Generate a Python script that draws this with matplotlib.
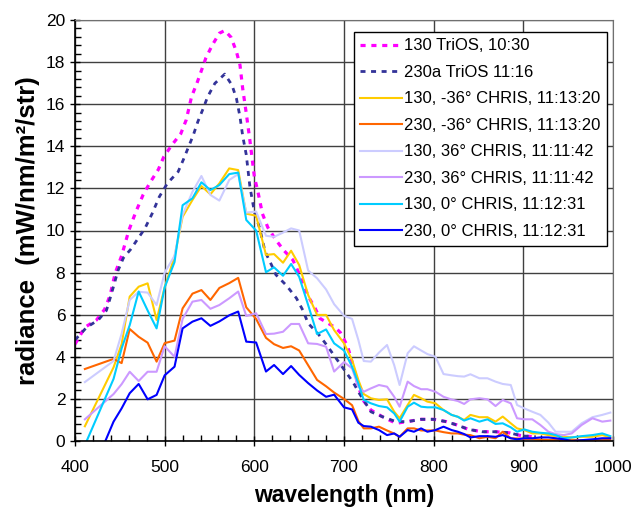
import matplotlib
matplotlib.use("Agg")
import matplotlib.pyplot as plt
from matplotlib.ticker import MultipleLocator

plt.rcParams['font.family'] = ['Liberation Sans', 'DejaVu Sans']

# ---------------- data ----------------
trios_130_wl = [400, 411, 424, 433, 439, 445, 452, 460, 468, 476, 484, 493, 499, 508, 518, 524,
                530, 536, 546, 553, 561, 567, 574, 580, 584, 587, 591, 595, 600, 604, 609, 615,
                624, 633, 643, 649, 655, 661, 667, 673, 682, 690, 696, 704, 710, 716, 721, 730,
                743, 758, 770, 786, 800, 814, 826, 839, 854, 869, 884, 899, 914]
trios_130 = [4.6, 5.4, 5.75, 6.25, 6.9, 8.0, 8.8, 10.0, 10.9, 11.7, 12.3, 12.9, 13.5, 14.06, 14.6, 15.25,
             16.36, 17.0, 18.2, 18.8, 19.37, 19.5, 19.18, 18.5, 17.86, 16.75, 15.57, 14.3, 12.56, 11.84, 10.8, 10.15,
             9.55, 9.05, 8.6, 8.04, 7.4, 6.8, 6.38, 5.83, 5.6, 5.4, 5.15, 4.5, 3.6, 2.6, 1.95, 1.47,
             1.15, 0.84, 0.92, 1.03, 1.03, 0.92, 0.76, 0.55, 0.44, 0.44, 0.39, 0.24, 0.2]

trios_230_wl = [400, 413, 426, 435, 440, 448, 454, 462, 470, 478, 486, 494, 503, 515, 521, 532,
                537, 543, 548, 556, 567, 575, 580, 584, 587, 591, 595, 600, 606, 612, 621, 624,
                636, 647, 654, 660, 671, 680, 690, 700, 710, 717, 730, 743, 758, 771, 786, 800,
                814, 826, 839, 854, 869, 884, 899, 914]
trios_230 = [4.8, 5.4, 5.75, 6.2, 6.9, 8.1, 8.7, 9.1, 9.6, 10.1, 10.8, 11.6, 12.24, 12.79, 13.38, 14.54,
             15.17, 15.8, 16.36, 16.99, 17.43, 16.91, 16.28, 15.4, 14.5, 13.6, 12.1, 10.9, 10.1, 9.0, 8.2, 7.9,
             7.38, 6.78, 6.22, 5.59, 5.1, 4.6, 4.0, 3.4, 2.8, 2.27, 1.39, 1.15, 0.92, 0.92, 1.03, 1.03,
             0.92, 0.76, 0.55, 0.44, 0.44, 0.39, 0.24, 0.2]

chris_wl = [411, 443, 452, 461, 471, 481, 491, 500, 511, 520, 531, 541, 551, 561, 572, 582,
            591, 602, 613, 622, 632, 641, 650, 660, 670, 680, 689, 700, 709, 716, 722, 730,
            739, 748, 756, 762, 771, 778, 786, 793, 802, 811, 820, 827, 834, 841, 851, 860,
            869, 877, 886, 893, 901, 910, 919, 928, 936, 945, 954, 965, 977, 988, 997]

c130_m36 = [0.7, 3.5, 4.6, 6.86, 7.33, 7.49, 5.75, 7.3, 8.76, 10.65, 11.45, 12.11, 11.72, 12.24, 12.95, 12.87,
            10.8, 10.7, 8.84, 8.88, 8.47, 9.04, 8.36, 6.94, 5.99, 5.99, 5.27, 4.64, 3.85, 2.9, 2.23, 2.03,
            1.95, 1.98, 1.39, 1.08, 1.71, 2.19, 2.03, 1.87, 1.79, 1.47, 1.24, 1.15, 1.0, 1.24, 1.13, 1.13,
            0.92, 1.16, 0.84, 0.6, 0.52, 0.36, 0.36, 0.28, 0.23, 0.2, 0.17, 0.2, 0.2, 0.28, 0.17]
c230_m36 = [3.42, 3.9, 3.7, 5.32, 4.95, 4.67, 3.77, 4.65, 4.77, 6.3, 7.0, 7.17, 6.7, 7.27, 7.5, 7.75,
            6.35, 5.8, 4.9, 4.6, 4.42, 4.5, 4.3, 3.6, 2.9, 2.6, 2.3, 2.0, 1.7, 0.95, 0.6, 0.6,
            0.68, 0.5, 0.35, 0.2, 0.6, 0.6, 0.5, 0.5, 0.5, 0.42, 0.36, 0.36, 0.3, 0.28, 0.13, 0.2,
            0.13, 0.44, 0.13, 0.12, 0.1, 0.1, 0.06, 0.05, 0.05, 0.05, 0.05, 0.04, 0.04, 0.05, 0.05]
c130_p36 = [2.8, 3.8, 5.1, 6.7, 7.09, 7.05, 6.46, 8.0, 8.8, 10.74, 11.84, 12.59, 11.69, 11.42, 12.4, 12.68,
            10.85, 10.9, 9.75, 9.7, 9.9, 10.1, 10.0, 8.1, 7.73, 7.2, 6.5, 5.95, 5.8, 4.8, 3.8, 3.77,
            4.2, 4.56, 3.6, 2.66, 4.17, 4.5, 4.3, 4.13, 4.0, 3.18, 3.12, 3.08, 3.06, 3.17, 2.98, 2.98,
            2.82, 2.71, 2.66, 1.71, 1.55, 1.39, 1.24, 0.87, 0.44, 0.44, 0.44, 0.84, 1.13, 1.24, 1.35]
c230_p36 = [1.03, 2.23, 2.7, 3.29, 2.85, 3.29, 3.29, 4.5, 4.0, 5.8, 6.62, 6.7, 6.28, 6.46, 6.78, 7.1,
            5.94, 6.07, 5.08, 5.1, 5.19, 5.56, 5.56, 4.64, 4.61, 4.48, 3.3, 3.75, 3.45, 2.58, 2.34, 2.5,
            2.66, 2.58, 2.1, 1.63, 2.82, 2.61, 2.46, 2.46, 2.34, 2.1, 1.97, 1.9, 1.76, 1.98, 2.03, 1.98,
            1.66, 1.95, 1.79, 1.08, 1.03, 1.03, 0.76, 0.44, 0.33, 0.28, 0.36, 0.76, 1.08, 0.92, 0.97]
c130_0 = [-0.2, 2.95, 4.4, 5.5, 7.1, 6.2, 5.35, 7.3, 8.5, 11.2, 11.53, 12.29, 11.92, 12.16, 12.68, 12.75,
          10.5, 10.0, 8.02, 8.25, 7.85, 8.41, 7.8, 6.46, 5.08, 5.3, 4.64, 4.3, 3.53, 2.74, 1.95, 1.79,
          1.66, 1.6, 1.31, 0.92, 1.63, 1.82, 1.63, 1.6, 1.6, 1.47, 1.24, 1.15, 0.97, 1.08, 0.92, 1.03,
          0.81, 0.84, 0.65, 0.44, 0.55, 0.44, 0.39, 0.36, 0.28, 0.13, 0.17, 0.23, 0.28, 0.36, 0.23]
c230_0 = [-2.3, 0.92, 1.55, 2.27, 2.71, 1.98, 2.19, 3.12, 3.53, 5.35, 5.67, 5.83, 5.47, 5.68, 5.97, 6.15,
          4.72, 4.68, 3.3, 3.61, 3.18, 3.56, 3.14, 2.75, 2.4, 2.1, 2.2, 1.6, 1.5, 0.87, 0.71, 0.68,
          0.52, 0.28, 0.36, 0.2, 0.52, 0.44, 0.6, 0.44, 0.52, 0.68, 0.52, 0.44, 0.33, 0.17, 0.23, 0.23,
          0.2, 0.28, 0.13, 0.08, 0.13, 0.13, 0.17, 0.17, 0.13, 0.08, 0.0, 0.04, 0.08, 0.13, 0.13]

labels = ["130 TriOS, 10:30", "230a TriOS 11:16",
          "130, -36° CHRIS, 11:13:20", "230, -36° CHRIS, 11:13:20",
          "130, 36° CHRIS, 11:11:42", "230, 36° CHRIS, 11:11:42",
          "130, 0° CHRIS, 11:12:31", "230, 0° CHRIS, 11:12:31"]
x_ticks = [400, 500, 600, 700, 800, 900, 1000]
y_ticks = [0, 2, 4, 6, 8, 10, 12, 14, 16, 18, 20]

# ---------------- plot ----------------
fig = plt.figure(figsize=(6.35, 5.08), dpi=100)
ax = fig.add_axes([75/635, 1-441/508, (613-75)/635, (441-20)/508])

ax.plot(trios_130_wl, trios_130, color='#FF00FF', lw=2.3, linestyle=(0, (1.6, 1.8)), label=labels[0])
ax.plot(trios_230_wl, trios_230, color='#333399', lw=2.0, linestyle=(0, (1.8, 2.0)), label=labels[1])
ax.plot(chris_wl, c130_m36, color='#FFCC00', lw=1.5, label=labels[2])
ax.plot(chris_wl, c230_m36, color='#FF6600', lw=1.5, label=labels[3])
ax.plot(chris_wl, c130_p36, color='#CCCCFF', lw=1.5, label=labels[4])
ax.plot(chris_wl, c230_p36, color='#CC99FF', lw=1.5, label=labels[5])
ax.plot(chris_wl, c130_0, color='#00CCFF', lw=1.5, label=labels[6])
ax.plot(chris_wl, c230_0, color='#0000FF', lw=1.5, label=labels[7])

ax.set_xlim(400, 1000)
ax.set_ylim(0, 20)
ax.set_xticks(x_ticks)
ax.set_yticks(y_ticks)
ax.xaxis.set_minor_locator(MultipleLocator(20))
ax.yaxis.set_minor_locator(MultipleLocator(0.4))
ax.tick_params(which='major', direction='inout', length=7, width=1, labelsize=12.5, color='black')
ax.tick_params(which='minor', direction='in', length=4, width=1, color='black')
ax.tick_params(axis='x', pad=10)
ax.grid(True, which='major', color='#404040', linewidth=1)
ax.set_axisbelow(True)
for s in ['top', 'right']:
    ax.spines[s].set_color('#707070')
for s in ['left', 'bottom']:
    ax.spines[s].set_color('black')
    ax.spines[s].set_linewidth(1.2)

ax.set_xlabel('wavelength (nm)', fontsize=16.5, fontweight='bold', labelpad=7)
ax.set_ylabel('radiance  (mW/nm/m²/str)', fontsize=18.5, fontweight='bold', labelpad=4)

leg = ax.legend(loc='upper right', bbox_to_anchor=(0.988, 0.972), fontsize=12,
                frameon=True, fancybox=False, edgecolor='black', framealpha=1,
                handlelength=2.5, handletextpad=0.1, labelspacing=0.69, borderpad=0.4,
                borderaxespad=0)
leg.get_frame().set_linewidth(1)

fig.savefig('out.png', dpi=100)
